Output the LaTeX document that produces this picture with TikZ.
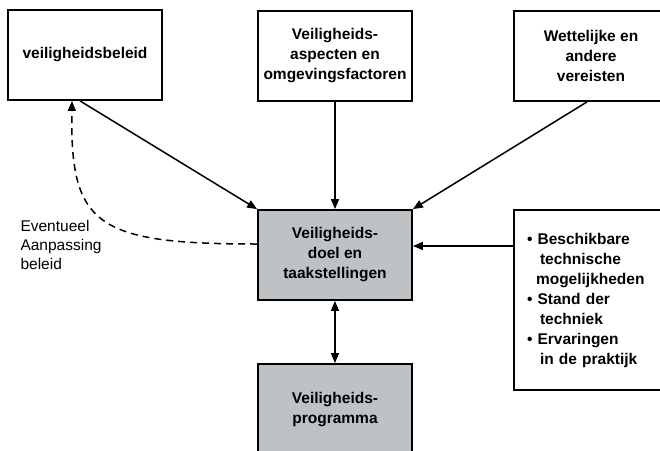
\documentclass[tikz,border=0pt]{standalone}
\usepackage{fontspec}
\setmainfont{Liberation Sans}
\usetikzlibrary{arrows.meta}
\begin{document}
\begin{tikzpicture}[x=1pt,y=-1pt,
  box/.style={draw=black,line width=1.8pt,minimum width=154pt,minimum height=90pt,align=center,inner sep=2pt,font=\bfseries\fontsize{15.5}{20}\selectfont},
  grey/.style={box,fill=boxgrey},
  arr/.style={line width=1.5pt,-{Triangle[length=10pt,width=8pt]}}]
\definecolor{boxgrey}{RGB}{190,194,197}
\clip (0,0) rectangle (660,450);
\useasboundingbox (0,0) rectangle (660,450);
\node[box] (beleid) at (85,55) {veiligheidsbeleid};
\node[box] (aspect) at (335,56) {Veiligheids-\\aspecten en\\omgevingsfactoren};
\node[box] (wet) at (591,56) {Wettelijke en\\andere\\vereisten};
\node[grey] (doel) at (335,255) {Veiligheids-\\doel en\\taakstellingen};
\node[grey,minimum height=92pt] (prog) at (335,410) {Veiligheids-\\programma};
\node[box,minimum height=180pt,text width=128pt,inner xsep=13pt,align=left] (techn) at (591,300) {%
\textbullet\ Beschikbare\\\hspace*{13pt}technische\\\hspace*{9pt}mogelijkheden\\%
\textbullet\ Stand der\\\hspace*{13pt}techniek\\%
\textbullet\ Ervaringen\\\hspace*{13pt}in de praktijk};
\node[anchor=west,align=left,font=\fontsize{15.5}{19.2}\selectfont] (lbl) at (17,245) {Eventueel\\Aanpassing\\beleid};
\coordinate (inpunt) at ([yshift=9pt]doel.east);
\draw[arr] ([xshift=-5pt]beleid.south) -- (doel.north west);
\draw[arr] (aspect.south) -- (doel.north);
\draw[arr] ([xshift=-4pt]wet.south) -- (doel.north east);
\draw[arr] (techn.west |- inpunt) -- (inpunt);
\draw[arr,{Triangle[length=10pt,width=8pt]}-{Triangle[length=10pt,width=8pt]}] (doel.south) -- (prog.north);
\draw[arr,dash pattern=on 7pt off 5pt] ([yshift=11pt]doel.west) .. controls (95,244) and (70,225) .. ([xshift=-13pt]beleid.south);
\end{tikzpicture}
\end{document}
